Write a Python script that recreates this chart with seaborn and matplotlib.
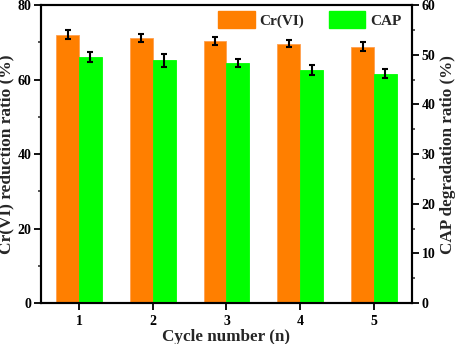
import numpy as np
import pandas as pd
import matplotlib
matplotlib.use("Agg")
import matplotlib.pyplot as plt
import seaborn as sns
from matplotlib.patches import Patch
from matplotlib.ticker import MultipleLocator

cycles = ["1", "2", "3", "4", "5"]
cr_values = [72.1, 71.1, 70.4, 69.7, 68.8]
cr_err = [1.1, 1.1, 1.1, 0.9, 1.2]
cap_values = [49.6, 48.9, 48.4, 46.9, 46.2]
cap_err = [0.95, 1.3, 0.8, 1.05, 0.95]
series = ["Cr(VI)", "CAP"]
colors = {"Cr(VI)": "#FF7F00", "CAP": "#00FF00"}

sns.set_style("ticks")
plt.rcParams["font.family"] = ["Liberation Serif", "DejaVu Serif"]
plt.rcParams["font.weight"] = "bold"

fig = plt.figure(figsize=(4.57, 3.44), dpi=100)
ax = fig.add_axes([0.0897, 0.119, 0.8118, 0.866])
ax2 = ax.twinx()

df_cr = pd.DataFrame({"cycle": cycles, "value": cr_values, "series": "Cr(VI)"})
df_cap = pd.DataFrame({"cycle": cycles, "value": cap_values, "series": "CAP"})

width = 0.62
sns.barplot(data=df_cr, x="cycle", y="value", hue="series", hue_order=series,
            palette=colors, width=width, ax=ax, legend=False, errorbar=None,
            saturation=1, edgecolor="#FFA050", linewidth=0.6, dodge=True)
sns.barplot(data=df_cap, x="cycle", y="value", hue="series", hue_order=series,
            palette=colors, width=width, ax=ax2, legend=False, errorbar=None,
            saturation=1, edgecolor="#00FF00", linewidth=0.6, dodge=True)

idx = np.arange(len(cycles))
off = width / 4
ax.errorbar(idx - off, cr_values, yerr=cr_err, fmt="none", ecolor="black",
            elinewidth=1.5, capsize=2.5, capthick=1.5, zorder=5)
ax2.errorbar(idx + off, cap_values, yerr=cap_err, fmt="none", ecolor="black",
             elinewidth=1.5, capsize=2.5, capthick=1.5, zorder=5)

ax.set_xlim(-0.516, 4.516)
ax.set_ylim(0, 80)
ax2.set_ylim(0, 60)
ax.yaxis.set_major_locator(MultipleLocator(20))
ax.yaxis.set_minor_locator(MultipleLocator(10))
ax2.yaxis.set_major_locator(MultipleLocator(10))
ax2.yaxis.set_minor_locator(MultipleLocator(5))

for a in (ax, ax2):
    for s in a.spines.values():
        s.set_visible(True)
        s.set_linewidth(1.5)
        s.set_color("black")
    a.tick_params(which="major", direction="out", length=5, width=1.3,
                  labelsize=10, colors="black", pad=2)
    a.tick_params(which="minor", direction="out", length=2.5, width=1.1)

ax.tick_params(axis="x", which="both", top=False, pad=3.5)
ax.tick_params(axis="y", right=False, which="both")
ax2.tick_params(axis="y", left=False, which="both")

for a in (ax, ax2):
    for lab in a.get_xticklabels() + a.get_yticklabels():
        lab.set_fontweight("bold")

ax.set_xlabel("Cycle number (n)", fontsize=12.3, fontweight="bold", labelpad=0.5)
ax.set_ylabel("Cr(VI) reduction ratio (%)", fontsize=12.5, fontweight="bold", labelpad=2)
ax2.set_ylabel("CAP degradation ratio (%)", fontsize=12.3, fontweight="bold", labelpad=3)

handles = [Patch(facecolor=colors[s], edgecolor=colors[s]) for s in series]
ax.legend(handles, series, loc="upper right", ncol=2, frameon=False,
          prop={"weight": "bold", "size": 11}, handlelength=2.4,
          handleheight=1.25, columnspacing=1.6, handletextpad=0.3,
          bbox_to_anchor=(1.0, 1.015), borderaxespad=0.3)

fig.savefig("out.png", dpi=100)
